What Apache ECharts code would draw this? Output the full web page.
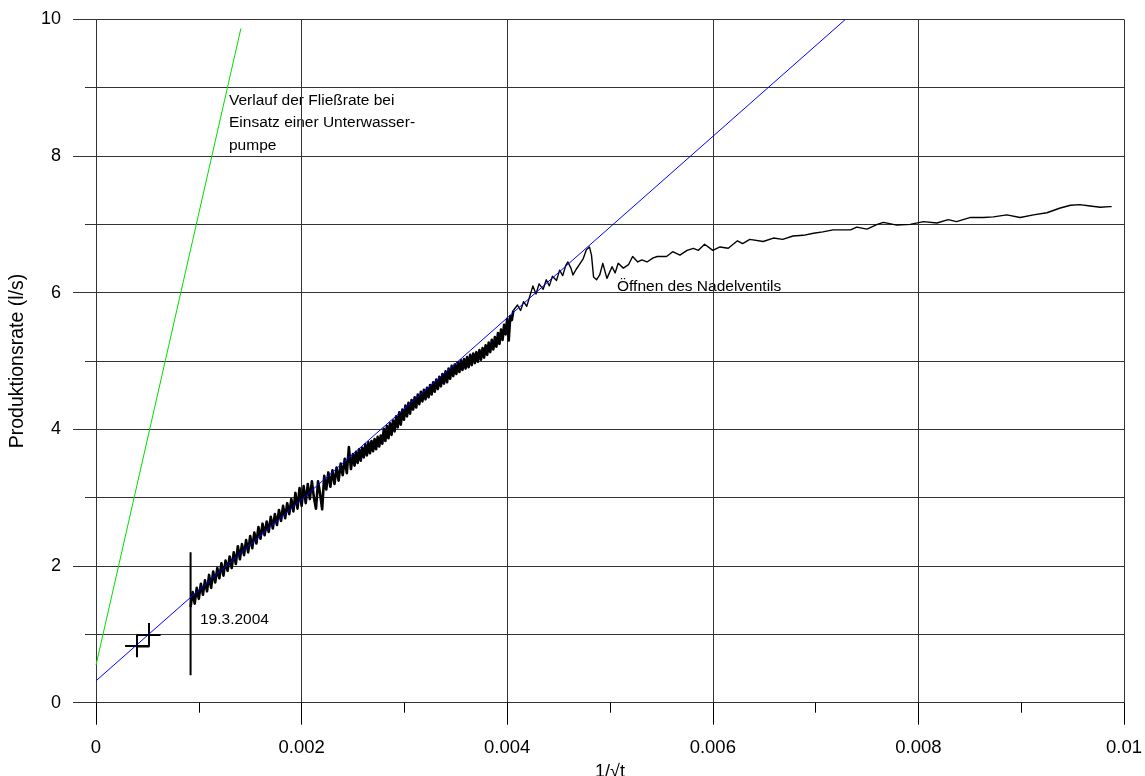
<!DOCTYPE html>
<html>
<head>
<meta charset="utf-8">
<script src="https://cdn.jsdelivr.net/npm/echarts@6/dist/echarts.min.js"></script>
<style>
html,body{margin:0;padding:0;background:#fff;}
#chart{width:1145px;height:776px;}
</style>
</head>
<body>
<div id="chart"></div>
<script>
// Measured flow rate (x = 1/sqrt(t), y = l/s) – dense noisy early part
var measuredEarly = [
[0.00092,1.40],[0.00094,1.62],[0.00096,1.45],[0.00098,1.68],[0.00100,1.52],[0.00102,1.74],[0.00104,1.58],[0.00106,1.79],
[0.00108,1.63],[0.00110,1.87],[0.00112,1.68],[0.00114,1.92],[0.00116,1.76],[0.00118,1.97],[0.00120,1.82],[0.00122,2.04],
[0.00124,1.86],[0.00126,2.08],[0.00128,1.93],[0.00130,2.14],[0.00132,1.97],[0.00134,2.20],[0.00136,2.03],[0.00138,2.29],
[0.00140,2.10],[0.00142,2.32],[0.00144,2.16],[0.00146,2.38],[0.00148,2.20],[0.00150,2.44],[0.00152,2.26],[0.00154,2.49],
[0.00156,2.33],[0.00158,2.57],[0.00160,2.40],[0.00162,2.62],[0.00164,2.45],[0.00166,2.65],[0.00168,2.50],[0.00170,2.72],
[0.00172,2.55],[0.00174,2.76],[0.00176,2.60],[0.00178,2.82],[0.00180,2.66],[0.00182,2.88],[0.00184,2.70],[0.00186,2.92],
[0.00188,2.76],[0.00190,2.98],[0.00192,2.80],[0.00194,3.07],[0.00196,2.84],[0.00198,3.14],[0.00200,2.88],[0.00202,3.17],
[0.00204,2.92],[0.00206,3.20],[0.00208,2.98],[0.00210,3.24],[0.00212,3.00],[0.00214,2.84],[0.00216,3.24],[0.00218,3.06],
[0.00220,2.83],[0.00222,3.32],[0.00224,3.12],[0.00226,3.37],[0.00228,3.16],[0.00230,3.40],[0.00232,3.20],[0.00234,3.44],
[0.00236,3.25],[0.00238,3.50],[0.00240,3.33],[0.00242,3.57],[0.00244,3.36],[0.00246,3.74],[0.00248,3.42],[0.00250,3.64],
[0.002515,3.47],[0.002530,3.67],[0.002545,3.51],[0.002560,3.71],[0.002575,3.54],[0.002590,3.73],[0.002605,3.59],[0.002620,3.78],
[0.002635,3.62],[0.002650,3.81],[0.002665,3.65],[0.002680,3.83],[0.002695,3.68],[0.002710,3.86],[0.002725,3.71],[0.002740,3.89],
[0.002755,3.75],[0.002770,3.91],[0.002785,3.79],[0.002800,4.01],[0.002815,3.83],[0.002830,4.05],[0.002845,3.87],[0.002860,4.09],
[0.002875,3.92],[0.002890,4.13],[0.002905,3.97],[0.002920,4.19],[0.002935,4.03],[0.002950,4.25],[0.002965,4.07],[0.002980,4.29],
[0.002995,4.14],[0.003010,4.35],[0.003025,4.19],[0.003040,4.39],[0.003055,4.23],[0.003070,4.43],[0.003085,4.29],[0.003100,4.47],
[0.003115,4.32],[0.003130,4.51],[0.003145,4.37],[0.003160,4.55],[0.003175,4.41],[0.003190,4.58],[0.003205,4.44],[0.003220,4.61],
[0.003235,4.47],[0.003250,4.65],[0.003265,4.51],[0.003280,4.69],[0.003295,4.55],[0.003310,4.73],[0.003325,4.59],[0.003340,4.77],
[0.003355,4.63],[0.003370,4.81],[0.003385,4.67],[0.003400,4.85],[0.003415,4.69],[0.003430,4.89],[0.003445,4.74],[0.003460,4.93],
[0.003475,4.78],[0.003490,4.95],[0.003505,4.81],[0.003520,4.98],[0.003535,4.84],[0.003550,5.01],[0.003565,4.87],[0.003580,5.03],
[0.003595,4.89],[0.003610,5.06],[0.003625,4.91],[0.003640,5.09],[0.003655,4.94],[0.003670,5.11],[0.003685,4.97],[0.003700,5.13],
[0.003715,4.99],[0.003730,5.16],[0.003745,5.02],[0.003760,5.19],[0.003775,5.05],[0.003790,5.23],[0.003805,5.09],[0.003820,5.27],
[0.003835,5.13],[0.003850,5.31],[0.003865,5.17],[0.003880,5.35],[0.003895,5.21],[0.003910,5.41],[0.003925,5.25],[0.003940,5.46],
[0.003955,5.31],[0.003970,5.53],[0.003985,5.39],[0.004000,5.62],[0.004015,5.30],[0.004030,5.66],[0.004045,5.60],[0.004060,5.74]
];
// Measured flow rate – later part (after the valve was opened)
var measuredLate = [
[0.00406,5.74],[0.00410,5.82],[0.00413,5.74],[0.00416,5.87],[0.00419,5.80],[0.00422,5.95],[0.00425,6.10],[0.00428,5.98],
[0.00431,6.13],[0.00435,6.05],[0.00438,6.19],[0.00441,6.10],[0.00444,6.24],[0.00448,6.18],[0.00451,6.33],[0.00454,6.25],
[0.00457,6.40],[0.00459,6.45],[0.00462,6.36],[0.00464,6.26],[0.00467,6.34],[0.00471,6.43],[0.00474,6.50],[0.00477,6.63],
[0.00480,6.67],[0.00482,6.55],[0.00484,6.23],[0.00487,6.19],[0.00490,6.26],[0.00493,6.43],[0.00497,6.21],[0.00502,6.38],
[0.00505,6.29],[0.00508,6.43],[0.00513,6.36],[0.00518,6.41],[0.00522,6.53],[0.00527,6.45],[0.00531,6.48],[0.00536,6.45],
[0.00542,6.51],[0.00546,6.53],[0.00555,6.53],[0.00561,6.60],[0.00568,6.55],[0.00575,6.62],[0.00581,6.65],[0.00586,6.62],
[0.00592,6.71],[0.00600,6.62],[0.00607,6.67],[0.00615,6.65],[0.00624,6.76],[0.00629,6.72],[0.00636,6.78],[0.00649,6.75],
[0.00659,6.80],[0.00668,6.78],[0.00678,6.83],[0.00688,6.84],[0.00698,6.87],[0.00707,6.89],[0.00717,6.92],[0.00727,6.92],
[0.00734,6.92],[0.00740,6.96],[0.00750,6.93],[0.00760,7.00],[0.00766,7.03],[0.00779,6.99],[0.00792,7.00],[0.00805,7.04],
[0.00818,7.02],[0.00829,7.07],[0.00837,7.04],[0.00850,7.10],[0.00863,7.10],[0.00873,7.11],[0.00886,7.14],[0.00899,7.10],
[0.00912,7.14],[0.00925,7.17],[0.00938,7.24],[0.00948,7.28],[0.00957,7.29],[0.00967,7.27],[0.00977,7.25],[0.00986,7.26],
[0.00988,7.26]
];
// Fitted line (blue)
var fitLine = [[0, 0.32], [0.00729, 10]];
// Submersible pump line (green)
var pumpLine = [[0, 0.55], [0.00141, 9.87]];
// Vertical marker at 19.3.2004
var dateMarker = [[0.00092, 0.4], [0.00092, 2.2]];
// Square marker
var squareMarker = [[0.0004, 0.82], [0.000516, 0.82], [0.000516, 0.995], [0.0004, 0.995], [0.0004, 0.82]];
// Cross markers: [x, y, halfWidth, halfHeight]
var crossMarkers = [[0.0004, 0.83, 0.000117, 0.165], [0.000516, 0.995, 0.000112, 0.17]];

var xMajorTicks = [0, 0.002, 0.004, 0.006, 0.008, 0.01];
var yMajorTicks = [0, 2, 4, 6, 8, 10];

var FONT = 'Liberation Sans, Arial, sans-serif';
var GRID_COLOR = '#333';

var crossLines = [];
crossMarkers.forEach(function (c) {
  crossLines.push([{coord: [c[0] - c[2], c[1]]}, {coord: [c[0] + c[2], c[1]]}]);
  crossLines.push([{coord: [c[0], c[1] - c[3]]}, {coord: [c[0], c[1] + c[3]]}]);
});

var chart = echarts.init(document.getElementById('chart'));
chart.setOption({
  animation: false,
  backgroundColor: '#fff',
  grid: {left: 96, right: 21, top: 19.4, bottom: 73.3, containLabel: false, outerBoundsMode: 'none'},
  xAxis: [{
    type: 'value', min: 0, max: 0.01, interval: 0.002,
    name: '1/\u221at', nameLocation: 'middle', nameGap: 55,
    nameTextStyle: {fontFamily: FONT, fontSize: 18, color: '#000'},
    axisLine: {show: true, onZero: false, lineStyle: {color: GRID_COLOR, width: 1}},
    axisTick: {show: true, length: 22, lineStyle: {color: '#000', width: 1}},
    axisLabel: {fontFamily: FONT, fontSize: 18.5, color: '#000', margin: 36,
      formatter: function (v) { return v === 0 ? '0' : String(+v.toFixed(3)); }},
    splitLine: {show: true, lineStyle: {color: GRID_COLOR, width: 1}}
  }, {
    type: 'value', min: 0, max: 0.01, interval: 0.001, position: 'bottom',
    axisLine: {show: false, onZero: false},
    axisTick: {show: true, length: 10, lineStyle: {color: '#000', width: 1}},
    axisLabel: {show: false},
    splitLine: {show: false}
  }],
  yAxis: [{
    type: 'value', min: 0, max: 10, interval: 2,
    name: 'Produktionsrate (l/s)', nameLocation: 'middle', nameGap: 68,
    nameTextStyle: {fontFamily: FONT, fontSize: 19.5, color: '#000'},
    axisLine: {show: true, onZero: false, lineStyle: {color: GRID_COLOR, width: 1}},
    axisTick: {show: true, length: 23, lineStyle: {color: GRID_COLOR, width: 1}},
    axisLabel: {fontFamily: FONT, fontSize: 18, color: '#000', margin: 35},
    splitLine: {show: true, lineStyle: {color: GRID_COLOR, width: 1}}
  }, {
    type: 'value', min: 0, max: 10, interval: 1, position: 'left', offset: 0,
    axisLine: {show: false, onZero: false},
    axisTick: {show: true, length: 11, lineStyle: {color: GRID_COLOR, width: 1}},
    axisLabel: {show: false},
    splitLine: {show: true, lineStyle: {color: GRID_COLOR, width: 1}}
  }],
  series: [{
    type: 'line', name: 'pump', data: pumpLine, symbol: 'none',
    lineStyle: {color: '#00e000', width: 1}, z: 3
  }, {
    type: 'line', name: 'measuredEarly', data: measuredEarly, symbol: 'none',
    lineStyle: {color: '#000', width: 2.6, join: 'round'}, z: 4
  }, {
    type: 'line', name: 'measuredLate', data: measuredLate, symbol: 'none',
    lineStyle: {color: '#000', width: 1.4, join: 'round'}, z: 4
  }, {
    type: 'line', name: 'fit', data: fitLine, symbol: 'none',
    lineStyle: {color: '#0000ff', width: 1}, z: 5
  }, {
    type: 'line', name: 'date', data: dateMarker, symbol: 'none',
    lineStyle: {color: '#000', width: 2}, z: 4
  }, {
    type: 'line', name: 'square', data: squareMarker, symbol: 'none',
    lineStyle: {color: '#000', width: 1.5}, z: 6,
    markLine: {
      silent: true, symbol: ['none', 'none'], label: {show: false},
      lineStyle: {color: '#000', width: 2, type: 'solid'},
      data: crossLines
    }
  }],
  graphic: [{
    type: 'text', left: 229, top: 89,
    style: {text: 'Verlauf der Flie\u00dfrate bei\nEinsatz einer Unterwasser-\npumpe',
      font: '15.5px ' + FONT, fill: '#000', lineHeight: 22.5}
  }, {
    type: 'text', left: 617, top: 279,
    style: {text: '\u00d6ffnen des Nadelventils', font: '15.5px ' + FONT, fill: '#000'}
  }, {
    type: 'text', left: 200, top: 612,
    style: {text: '19.3.2004', font: '15.5px ' + FONT, fill: '#000'}
  }]
});
</script>
</body>
</html>
